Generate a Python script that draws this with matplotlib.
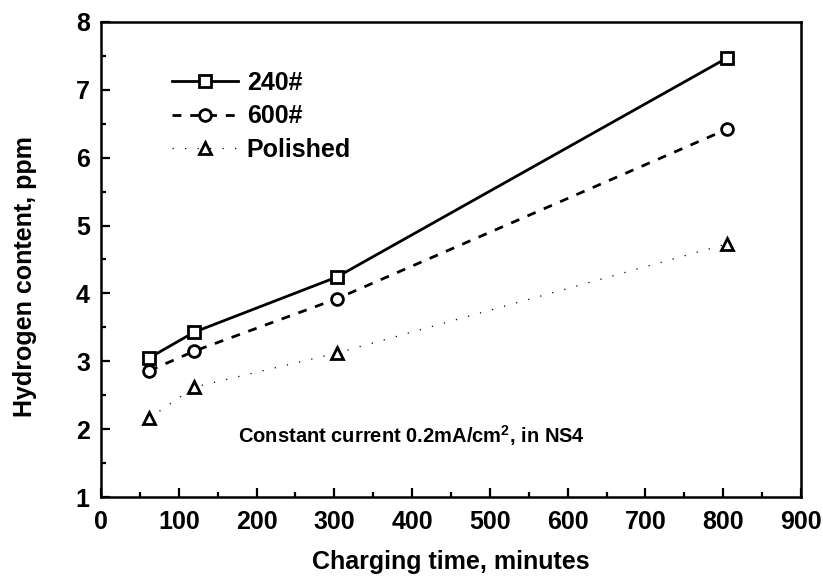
import matplotlib
matplotlib.use("Agg")
import matplotlib.pyplot as plt
from matplotlib.ticker import MultipleLocator

plt.rcParams['font.family'] = ['Liberation Sans', 'DejaVu Sans']
plt.rcParams['font.weight'] = 'bold'
plt.rcParams['mathtext.fontset'] = 'custom'
plt.rcParams['mathtext.rm'] = 'Liberation Sans:bold'
plt.rcParams['mathtext.bf'] = 'Liberation Sans:bold'

time_min = [62, 120, 303, 805]
h_240 = [3.05, 3.43, 4.24, 7.47]
h_600 = [2.86, 3.15, 3.92, 6.42]
h_polished = [2.16, 2.62, 3.12, 4.73]

fig = plt.figure(figsize=(8.23, 5.8), dpi=100)
ax = fig.add_axes([0.1227, 0.1431, 0.8505, 0.819])

mk = dict(ms=8.5, mfc='white', mec='black', mew=2.0)
ax.plot(time_min, h_240, '-', color='black', lw=2.0, marker='s', label='240#', **mk)
ax.plot(time_min, h_600, color='black', lw=2.0, ls=(0, (3.2, 3.2)), marker='o',
        label='600#', **mk)
ax.plot(time_min, h_polished, color='black', lw=0.9, ls=(0, (1, 9)), marker='^',
        label='Polished', **mk)

ax.set_xlim(0, 900)
ax.set_ylim(1, 8)
ax.xaxis.set_major_locator(MultipleLocator(100))
ax.xaxis.set_minor_locator(MultipleLocator(50))
ax.yaxis.set_major_locator(MultipleLocator(1))
ax.yaxis.set_minor_locator(MultipleLocator(0.5))
ax.tick_params(which='both', direction='in', width=1.6, labelsize=18,
               top=False, right=False)
ax.tick_params(which='major', length=6.5)
ax.tick_params(which='minor', length=3.5)
ax.tick_params(axis='x', pad=9)
ax.tick_params(axis='y', pad=8)
for lab in ax.get_xticklabels() + ax.get_yticklabels():
    lab.set_fontweight('bold')
for s in ax.spines.values():
    s.set_linewidth(1.8)

ax.set_xlabel('Charging time, minutes', fontsize=18, fontweight='bold')
ax.set_ylabel('Hydrogen content, ppm', fontsize=18, fontweight='bold')
ax.xaxis.set_label_coords(0.5, -0.112)
ax.yaxis.set_label_coords(-0.092, 0.465)

ax.text(0.196, 0.13, r'Constant current 0.2mA/cm$^{2}$, in NS4', fontsize=14.5,
        fontweight='bold', va='center', ha='left', transform=ax.transAxes)

ax.legend(loc='upper left', bbox_to_anchor=(0.101, 0.897), frameon=False,
          handlelength=2.64, handletextpad=0.36, labelspacing=0.38,
          borderpad=0, borderaxespad=0,
          prop={'weight': 'bold', 'size': 18})

fig.savefig('out.png', dpi=100)
